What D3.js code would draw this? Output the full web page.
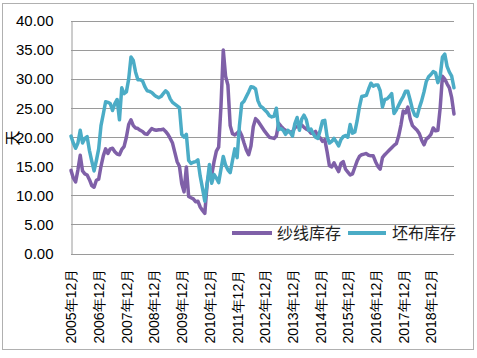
<!DOCTYPE html>
<html><head><meta charset="utf-8">
<script src="https://cdn.jsdelivr.net/npm/d3@7"></script>
<style>
html,body{margin:0;padding:0;background:#fff;}
svg{display:block;}
</style></head>
<body>
<svg id="chart" width="477" height="358"></svg>
<script>
// ---- data (monthly, 2005年12月 .. 2019年10月) ----
const startYear = 2005, startMonth = 12, nMonths = 167;
const categories = [];
for (let i = 0; i < nMonths; i++) {
  const t = (startMonth - 1) + i;
  categories.push((startYear + Math.floor(t / 12)) + "年" + (t % 12 + 1) + "月");
}
const yarnStock = [
14.3,13.0,12.3,14.4,16.9,14.2,13.7,13.5,12.7,11.7,11.4,12.6,12.8,15.0,16.8,18.0,17.2,18.0,18.1,17.5,
17.1,17.0,17.9,18.4,20.0,22.2,23.0,22.0,21.6,21.5,21.2,21.0,20.6,20.5,21.0,21.5,21.3,21.2,21.3,21.3,
21.4,21.0,20.5,19.8,19.0,17.4,15.8,15.0,12.0,10.6,14.9,9.8,9.6,9.4,8.9,9.0,8.0,7.4,6.9,12.0,
14.2,13.5,15.8,17.6,18.3,25.3,35.0,30.5,29.0,22.0,20.6,20.4,20.7,21.1,20.3,19.0,17.8,17.0,18.5,21.8,
23.2,22.8,22.2,21.6,21.0,20.5,20.0,19.9,19.8,20.2,22.4,21.9,21.5,21.2,21.0,20.9,20.9,21.7,21.8,21.9,
22.1,21.7,21.4,21.2,20.7,20.7,21.0,20.2,19.9,19.3,19.6,17.5,15.1,14.9,15.6,14.8,14.1,15.5,15.8,14.5,
14.0,13.5,13.7,14.8,15.9,16.7,17.0,17.1,17.2,16.9,16.8,16.8,15.8,15.0,14.5,16.5,17.0,17.4,17.8,18.2,
18.6,18.9,20.2,22.1,24.5,24.2,25.2,23.2,22.0,21.6,21.2,20.6,19.5,18.7,19.7,20.0,20.5,21.6,21.1,21.2,
25.0,30.5,30.0,29.2,28.5,26.8,24.0];
const clothStock = [
20.2,19.0,18.1,19.0,21.2,19.0,19.8,20.1,17.7,15.9,14.2,16.0,18.0,22.0,24.0,26.1,26.0,25.8,24.6,25.8,
26.5,23.0,28.5,27.5,27.8,30.0,33.8,33.2,31.2,29.9,29.9,29.7,28.7,28.0,27.9,27.7,27.3,27.0,26.8,27.0,
27.5,28.0,27.6,26.6,26.0,25.7,25.4,25.1,20.5,20.0,20.5,16.0,15.5,15.7,15.8,16.1,13.3,11.2,9.0,12.0,
15.3,12.1,13.6,13.0,12.2,14.5,16.7,15.2,14.4,13.9,16.0,18.0,16.5,22.0,25.8,26.2,27.0,27.8,28.7,28.6,
28.3,26.3,25.4,25.1,24.7,24.3,23.7,23.5,23.6,25.0,21.3,21.5,21.2,20.5,21.2,20.8,20.2,22.3,23.4,21.2,
23.1,23.8,23.0,21.2,21.4,20.6,20.0,19.8,21.2,22.8,22.9,20.1,19.0,19.3,19.8,19.2,18.5,19.6,20.1,20.3,
20.0,22.2,20.7,20.9,22.8,25.2,27.0,27.1,27.2,28.3,29.3,28.8,29.0,29.0,28.0,25.2,26.5,26.6,27.0,27.5,
24.1,24.7,25.5,26.3,27.0,27.9,27.9,26.4,24.8,23.8,23.6,25.1,26.3,27.8,29.6,30.4,30.8,31.3,31.1,29.4,
30.5,33.8,34.3,32.2,31.2,30.5,28.5];
const seriesNames = ["纱线库存", "坯布库存"];
const yTicks = [0, 5, 10, 15, 20, 25, 30, 35, 40];
const tickLabels = ["2005年12月","2006年12月","2007年12月","2008年12月","2009年12月","2010年12月","2011年12月",
  "2012年12月","2013年12月","2014年12月","2015年12月","2016年12月","2017年12月","2018年12月"];
const yTitle = "天";

// ---- layout ----
const svg = d3.select("#chart");
const pL = 71, pR = 454, pT = 21, pB = 253.5;
const colors = ["#7F60A8", "#4BACC6"];
const gridColor = "#9a9a9a";
const numFont = "'Liberation Sans', Arial, sans-serif";
const cjkFont = "'Noto Sans CJK SC', sans-serif";

svg.append("rect").attr("x", 2.5).attr("y", 3.5).attr("width", 471).attr("height", 346)
  .attr("fill", "#fff").attr("stroke", "#b0b0b0").attr("stroke-width", 1);

const x = d3.scalePoint().domain(categories).range([pL, pR]);
const y = d3.scaleLinear().domain([0, 40]).range([pB, pT]);

// gridlines
svg.append("g").selectAll("line").data(yTicks.filter(d => d > 0)).join("line")
  .attr("x1", pL).attr("x2", pR)
  .attr("y1", d => Math.round(y(d)) + 0.5).attr("y2", d => Math.round(y(d)) + 0.5)
  .attr("stroke", gridColor).attr("stroke-width", 1);

// y axis
const yAxis = svg.append("g").attr("transform", `translate(${pL + 0.5},0)`)
  .call(d3.axisLeft(y).tickValues(yTicks).tickFormat(d3.format(".2f")).tickSize(0).tickPadding(18));
yAxis.select(".domain").attr("stroke", gridColor);
yAxis.selectAll("text").attr("font-family", numFont).attr("font-size", 15).attr("fill", "#000");

// x axis
const xAxis = svg.append("g").attr("transform", `translate(0,${Math.round(pB) + 0.5})`)
  .call(d3.axisBottom(x).tickValues(tickLabels).tickSize(0).tickFormat(d => d));
xAxis.select(".domain").attr("stroke", gridColor).attr("d", `M${pL},0H${pR}`);
xAxis.selectAll("text")
  .attr("font-family", numFont).attr("font-size", 14).attr("fill", "#000")
  .attr("text-anchor", "start").attr("dy", "0.35em")
  .attr("transform", "translate(0,89) rotate(-90)").attr("y", 0).attr("x", 0);

// y title
svg.append("text").attr("transform", "translate(11,138) rotate(-90)")
  .attr("text-anchor", "middle").attr("dominant-baseline", "central")
  .attr("font-family", cjkFont).attr("font-size", 15)
  .attr("fill", "#000").text(yTitle);

// lines
const line = d3.line().x((d, i) => x(categories[i])).y(d => y(d));
[yarnStock, clothStock].forEach((s, k) => {
  svg.append("path").datum(s).attr("d", line).attr("fill", "none")
    .attr("stroke", colors[k]).attr("stroke-width", 3.5)
    .attr("stroke-linejoin", "round").attr("stroke-linecap", "round");
});

// legend
const legend = [[232, 272, 277], [348, 386, 392]];
legend.forEach((p, k) => {
  svg.append("line").attr("x1", p[0]).attr("x2", p[1]).attr("y1", 233).attr("y2", 233)
    .attr("stroke", colors[k]).attr("stroke-width", 4);
  svg.append("text").attr("x", p[2]).attr("y", 239).attr("font-family", cjkFont)
    .attr("font-size", 16).attr("fill", "#222").text(seriesNames[k]);
});
</script>
</body></html>
